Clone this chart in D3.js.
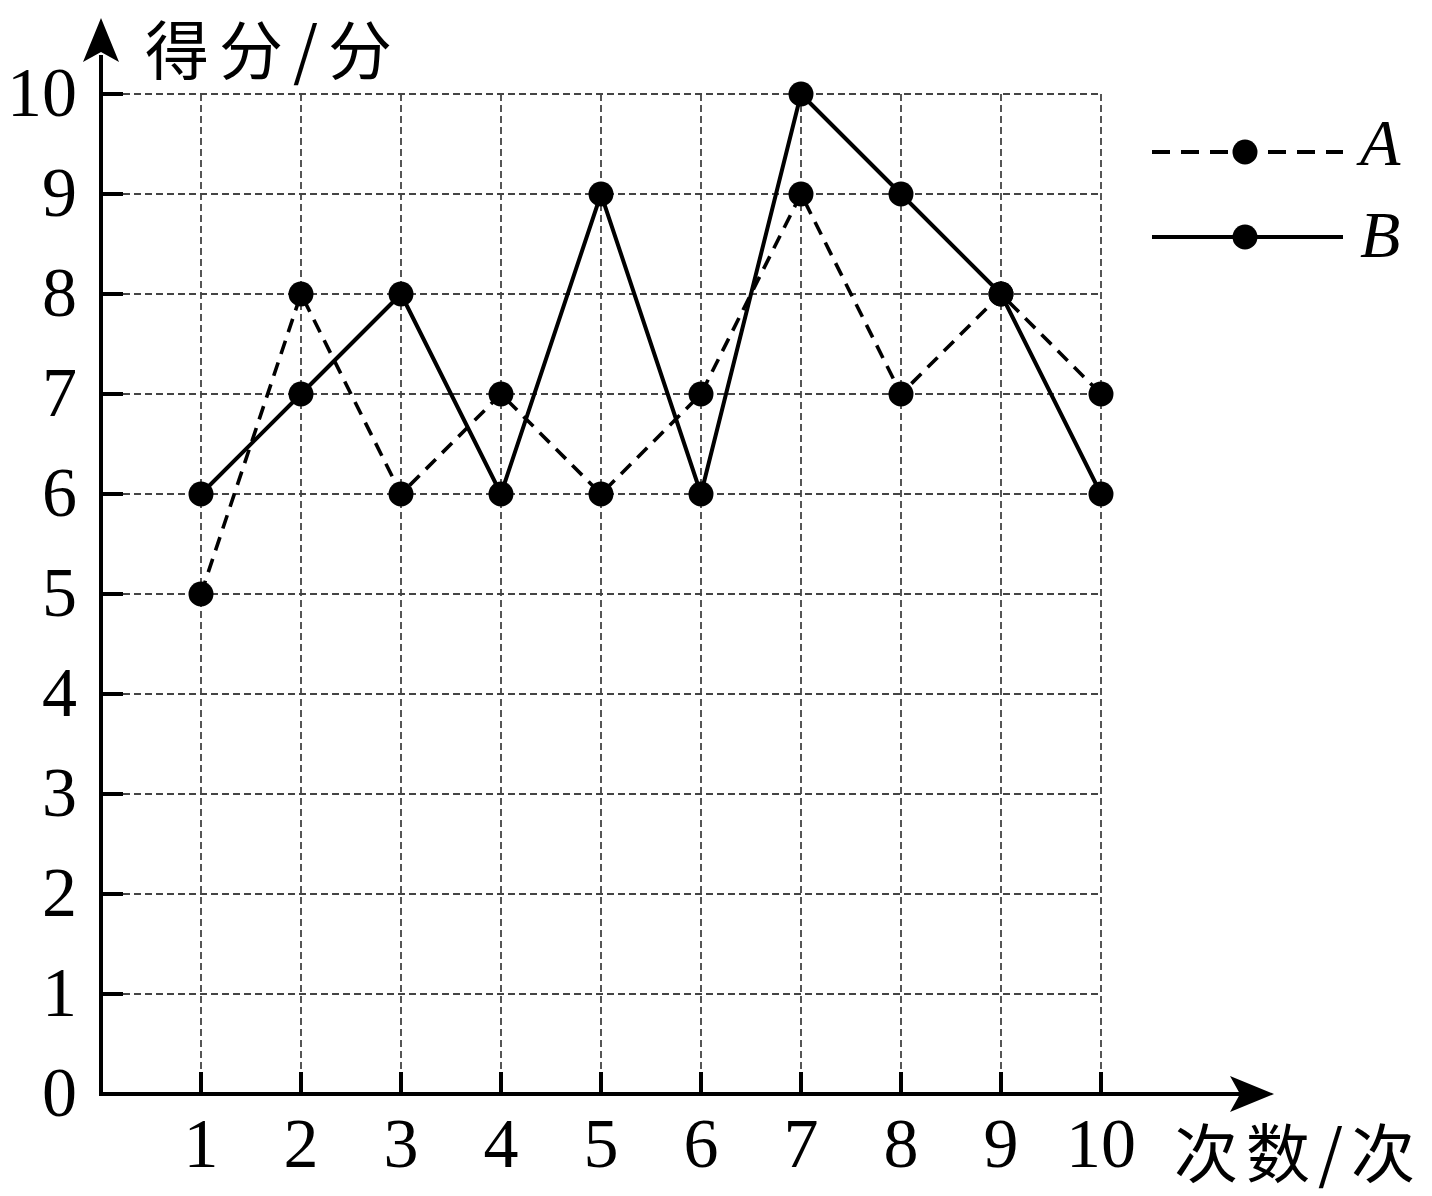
<!DOCTYPE html>
<html><head><meta charset="utf-8">
<script src="https://cdn.jsdelivr.net/npm/d3@7"></script>
<style>body{margin:0;background:#fff}svg{display:block}</style>
</head><body>
<script>
const rounds = [1,2,3,4,5,6,7,8,9,10];
const seriesA = [5,8,6,7,6,7,9,7,8,7];
const seriesB = [6,7,8,6,9,6,10,9,8,6];
const yTicks = [0,1,2,3,4,5,6,7,8,9,10];
const yTitle = "得分/分";
const xTitle = "次数/次";
const legendNames = ["A","B"];

const W = 1432, H = 1196;
const svg = d3.select("body").append("svg").attr("width", W).attr("height", H);
const x = d3.scaleLinear().domain([0,10]).range([101,1101]);
const y = d3.scaleLinear().domain([0,10]).range([1094,94]);
const serif = "'Liberation Serif','Times New Roman',serif";
const cjk = "'Noto Sans CJK SC',sans-serif";

// grid
const grid = svg.append("g").attr("stroke","#444").attr("stroke-width",1.8).attr("stroke-dasharray","7,4");
yTicks.filter(d=>d>0).forEach(d=>{
  grid.append("line").attr("x1",x(0)+22).attr("x2",x(10)).attr("y1",y(d)).attr("y2",y(d));
});
rounds.forEach(d=>{
  grid.append("line").attr("x1",x(d)).attr("x2",x(d)).attr("y1",y(10)).attr("y2",y(0)-22);
});

// axes
const ax = svg.append("g").attr("stroke","#000").attr("stroke-width",4).attr("fill","none");
ax.append("line").attr("x1",x(0)-2).attr("x2",1240).attr("y1",y(0)).attr("y2",y(0));
ax.append("line").attr("x1",x(0)).attr("x2",x(0)).attr("y1",y(0)).attr("y2",55);
yTicks.filter(d=>d>0).forEach(d=>{
  ax.append("line").attr("x1",x(0)).attr("x2",x(0)+22).attr("y1",y(d)).attr("y2",y(d));
});
rounds.forEach(d=>{
  ax.append("line").attr("x1",x(d)).attr("x2",x(d)).attr("y1",y(0)).attr("y2",y(0)-22);
});
// arrows
svg.append("path").attr("d",`M${x(0)},18 L${x(0)+18},62 L${x(0)},52 L${x(0)-18},62 Z`).attr("fill","#000");
svg.append("path").attr("d",`M1274,${y(0)} L1230,${y(0)-18} L1240,${y(0)} L1230,${y(0)+18} Z`).attr("fill","#000");

// tick labels
svg.append("g").selectAll("text").data(yTicks).join("text")
  .attr("x",77).attr("y",d=>y(d)+22).attr("text-anchor","end")
  .attr("font-family",serif).attr("font-size",70).text(d=>d);
svg.append("g").selectAll("text").data(rounds).join("text")
  .attr("x",d=>x(d)).attr("y",1167).attr("text-anchor","middle")
  .attr("font-family",serif).attr("font-size",70).text(d=>d);

// titles
svg.append("text").attr("x",145).attr("y",74).attr("font-family",cjk).attr("font-size",64)
  .attr("letter-spacing",10).text(yTitle);
svg.append("text").attr("x",1174).attr("y",1177).attr("font-family",cjk).attr("font-size",64)
  .attr("letter-spacing",8).text(xTitle);

// series
const line = d3.line().x((d,i)=>x(rounds[i])).y(d=>y(d));
svg.append("path").datum(seriesA).attr("d",line).attr("fill","none").attr("stroke","#000")
  .attr("stroke-width",3.6).attr("stroke-dasharray","14,9");
svg.append("path").datum(seriesB).attr("d",line).attr("fill","none").attr("stroke","#000")
  .attr("stroke-width",4);
[seriesA, seriesB].forEach(s=>{
  svg.append("g").selectAll("circle").data(s).join("circle")
    .attr("cx",(d,i)=>x(rounds[i])).attr("cy",d=>y(d)).attr("r",12.5).attr("fill","#000");
});

// legend
const leg = [{n:legendNames[0], y:152, dash:"18,11"},{n:legendNames[1], y:237, dash:null}];
leg.forEach(l=>{
  const ln = svg.append("line").attr("x1",1152).attr("x2",1343).attr("y1",l.y).attr("y2",l.y)
    .attr("stroke","#000").attr("stroke-width",4);
  if(l.dash) ln.attr("stroke-dasharray",l.dash);
  svg.append("circle").attr("cx",1245).attr("cy",l.y).attr("r",12.5).attr("fill","#000");
  svg.append("text").attr("x",1360).attr("y",l.y+13+ (l.n==="B"?7:0)).attr("font-family",serif)
    .attr("font-style","italic").attr("font-size",66).text(l.n);
});
</script>
</body></html>
